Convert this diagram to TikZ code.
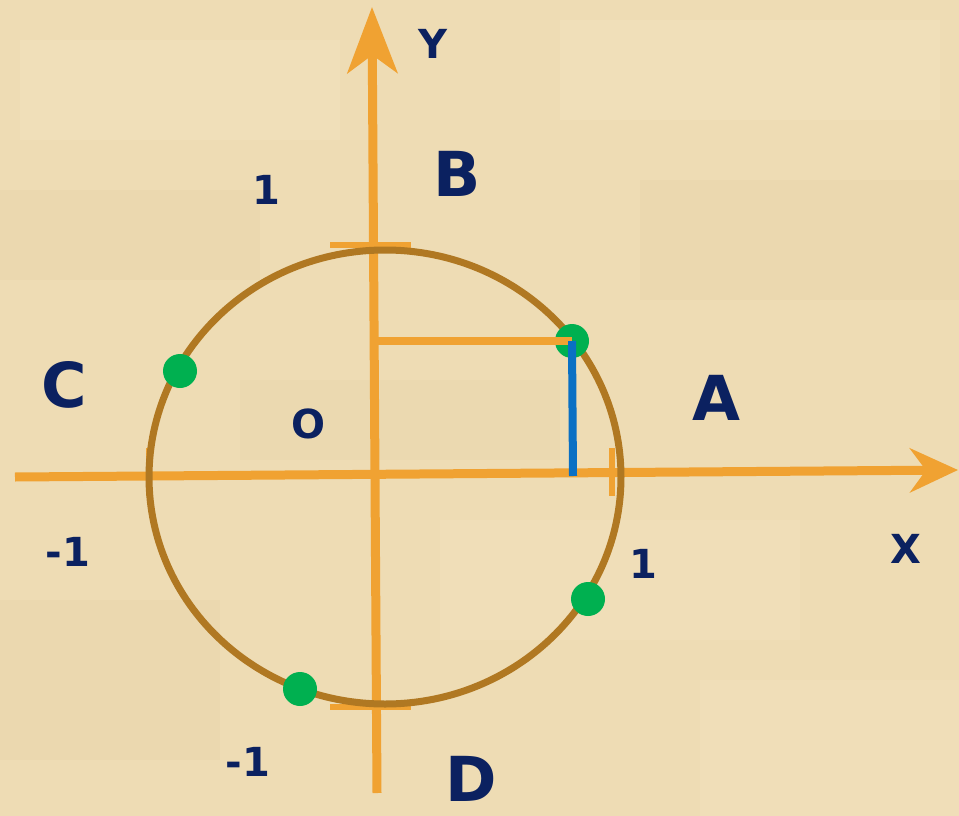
\documentclass[tikz,border=0pt]{standalone}
\usepackage{fontspec}
\setmainfont{DejaVu Sans}
\usetikzlibrary{arrows.meta}
\definecolor{bg}{HTML}{EEDCB4}
\definecolor{bgdark}{HTML}{E6D1A6}
\definecolor{bglight}{HTML}{F4E4C2}
\definecolor{axis}{HTML}{F0A232}
\definecolor{ring}{HTML}{B07822}
\definecolor{dot}{HTML}{00B050}
\definecolor{proj}{HTML}{0A70C4}
\definecolor{lbl}{HTML}{0B2160}
\tikzset{
  axisline/.style={draw=axis, line width=9pt},
  xhead/.style={-{Stealth[length=48pt, width=44pt, inset=16pt]}},
  yhead/.style={-{Stealth[length=66pt, width=50pt, inset=18pt]}},
  tick/.style={draw=axis, line width=6pt},
  ring/.style={draw=ring, line width=7pt},
  pt/.style={circle, fill=dot, inner sep=0pt, minimum size=34pt},
  big/.style={text=lbl, font=\fontsize{62}{64}\selectfont\bfseries, inner sep=0pt},
  small/.style={text=lbl, font=\fontsize{40}{42}\selectfont\bfseries, inner sep=0pt},
}
\begin{document}
\begin{tikzpicture}[x=1pt, y=-1pt]
\fill[bg] (0,0) rectangle (959,816);
\useasboundingbox (0,0) rectangle (959,816);
% soft texture blotches
\fill[bglight, opacity=0.4] (20,40) rectangle (340,140);
\fill[bgdark, opacity=0.35] (0,190) rectangle (260,280);
\fill[bglight, opacity=0.4] (560,20) rectangle (940,120);
\fill[bgdark, opacity=0.3] (640,180) rectangle (959,300);
\fill[bglight, opacity=0.35] (440,520) rectangle (800,640);
\fill[bgdark, opacity=0.3] (0,600) rectangle (220,760);
\fill[bglight, opacity=0.35] (700,680) rectangle (959,816);
\fill[bgdark, opacity=0.25] (240,380) rectangle (560,460);

% axes
\coordinate (xl) at (15,477);
\coordinate (xr) at (958,470);
\coordinate (yb) at (377,793);
\coordinate (yt) at (372,7);
\draw[axisline, xhead] (xl) -- (xr);
\draw[axisline, yhead] (yb) -- (yt);

% ticks
\coordinate (t1a) at (330,245); \coordinate (t1b) at (411,245);
\coordinate (t2a) at (330,707); \coordinate (t2b) at (411,707);
\coordinate (t3a) at (149,448); \coordinate (t3b) at (149,496);
\coordinate (t4a) at (612,448); \coordinate (t4b) at (612,496);
\draw[tick] (t1a) -- (t1b);
\draw[tick] (t2a) -- (t2b);
\draw[tick] (t3a) -- (t3b);
\draw[tick] (t4a) -- (t4b);

% circle
\coordinate (c) at (385,477);
\draw[ring] (c) ellipse [x radius=236, y radius=227];

% projections
\coordinate (py) at (377,341);
\coordinate (px) at (573,476);
\node[pt] (p1) at (572,341) {};
\draw[draw=axis, line width=8pt] (py) -- (p1.center);
\draw[draw=proj, line width=8pt] (p1.center) -- (px);

% other points
\node[pt] (p2) at (180,371) {};
\node[pt] (p3) at (588,599) {};
\node[pt] (p4) at (300,689) {};

% labels
\node[small] (lY) at (433,44) {Y};
\node[big] (lB) at (457,174) {B};
\node[small] (l1t) at (266,190) {1};
\node[big] (lC) at (64,385) {C};
\node[small] (lO) at (308,424) {O};
\node[big] (lA) at (716,398) {A};
\node[small] (lX) at (906,549) {X};
\node[small] (lm1l) at (68,552) {-1};
\node[small] (l1r) at (643,564) {1};
\node[small] (lm1b) at (248,762) {-1};
\node[big] (lD) at (471,779) {D};
\end{tikzpicture}
\end{document}
